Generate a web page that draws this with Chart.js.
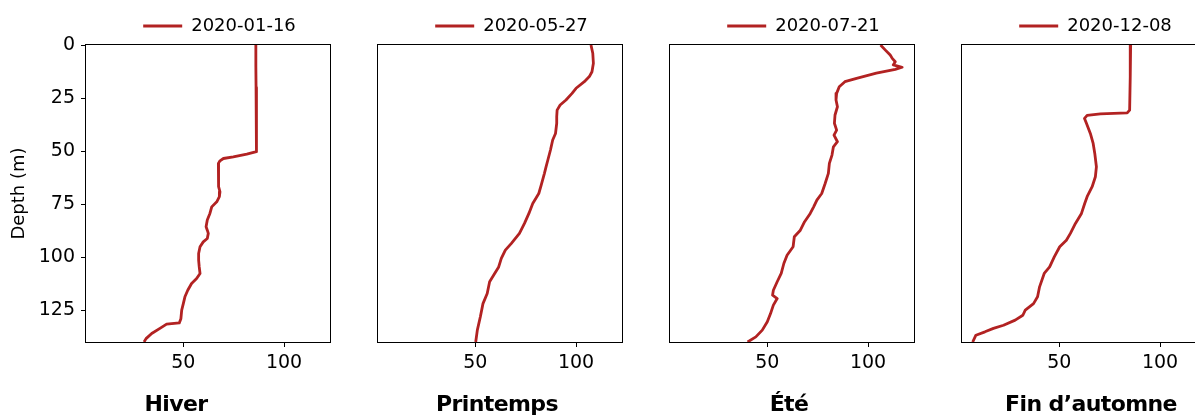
<!DOCTYPE html>
<html><head><meta charset="utf-8">
<script src="https://cdn.jsdelivr.net/npm/chart.js@4/dist/chart.umd.min.js"></script>
<style>
html,body{margin:0;padding:0;background:#fff;width:1195px;height:418px;overflow:hidden;}
#wrap{position:relative;width:1195px;height:418px;overflow:hidden;}
canvas{position:absolute;top:0;}
.season{position:absolute;top:393px;font-family:'DejaVu Sans',sans-serif;font-weight:bold;font-size:22px;line-height:22px;letter-spacing:-0.6px;transform:translateX(-50%);white-space:nowrap;color:#000;}
</style></head><body><div id="wrap"></div>
<script>
// ---- data ----
const seasons = ['Hiver', 'Printemps', 'Été', 'Fin d’automne'];
const dates = ['2020-01-16', '2020-05-27', '2020-07-21', '2020-12-08'];
const xTicks = [50, 100];
const yTicks = [0, 25, 50, 75, 100, 125];
const xMin = 1.7, xMax = 122.8, yMin = 0, yMax = 140;

const winterDepth = [0, 10, 20, 30, 40, 49.5, 50.3, 51.4, 52.7, 53.5, 54.6, 55.8, 58.9, 63.7, 66.8, 69.2, 71.5, 73.9, 76.3, 79.4, 82.5, 85.7, 87.3, 88.8, 91.2, 92.8, 95.1, 98.3, 101.4, 104.6, 107.7, 110.1, 112.4, 115.6, 118.7, 121.9, 125, 129, 131, 131.6, 133.6, 136, 138.4, 140];
const winterValue = [86.0, 86.0, 86.1, 86.2, 86.3, 86.4, 86.3, 81.5, 74.8, 69.9, 68.2, 67.4, 67.4, 67.4, 67.7, 68.2, 67.9, 66.6, 64.1, 63.2, 61.9, 61.3, 61.9, 62.4, 61.9, 59.9, 58.3, 57.6, 57.6, 57.9, 58.3, 56.6, 54.1, 52.2, 50.8, 50.0, 49.2, 48.8, 48.0, 41.7, 38.4, 34.3, 31.5, 30.5];

const springDepth = [0, 3.9, 8.6, 12.6, 14.9, 17.3, 20.4, 22.8, 25.9, 28.3, 30.7, 33.8, 36.9, 41.7, 44.8, 49.5, 54.2, 57.4, 60.5, 66, 70, 74.7, 79.4, 84.1, 88.8, 93.6, 96.7, 100.6, 104.6, 107.7, 111.6, 117.1, 121.9, 128.1, 134.4, 140];
const springValue = [107.4, 108.3, 108.6, 107.9, 106.6, 104.1, 100.0, 98.0, 95.0, 92.1, 90.6, 90.4, 90.4, 89.8, 88.4, 87.3, 86.0, 85.1, 84.3, 82.7, 81.5, 78.5, 76.6, 74.4, 71.9, 67.8, 64.9, 62.9, 61.6, 59.6, 57.1, 55.9, 53.8, 52.5, 51.0, 50.2];

const summerDepth = [0, 2.4, 4.7, 6.3, 7.9, 9.4, 10.5, 11.5, 13.3, 15.7, 17.3, 19.7, 22.8, 25.9, 29.1, 33, 36.9, 40.1, 42.5, 45.6, 48, 51.9, 55.8, 60.5, 65.3, 70, 73.1, 76.3, 79.4, 83.3, 87.3, 90.4, 95.1, 99.1, 103, 107.7, 111.6, 115.6, 117.9, 119.5, 122.6, 126.6, 130.5, 134.4, 137.6, 140];
const summerValue = [106.2, 108.6, 111.0, 112.0, 113.5, 112.5, 116.9, 113.5, 104.1, 94.3, 88.5, 85.7, 84.4, 84.1, 84.8, 83.6, 83.3, 84.4, 83.1, 84.8, 82.8, 82.1, 80.8, 80.3, 78.7, 77.0, 74.6, 73.0, 71.3, 68.5, 66.4, 63.4, 62.8, 59.8, 58.2, 56.9, 54.9, 53.0, 52.6, 54.9, 53.0, 51.6, 50.0, 47.5, 44.3, 40.2];

const autumnDepth = [0, 15, 30.7, 32, 32.5, 33.2, 34.6, 37, 41.7, 46.4, 51.1, 57.4, 62.1, 66.8, 71.5, 74.7, 79.4, 84.1, 88.8, 92, 95.1, 99.9, 104.6, 107.7, 114, 118.7, 121.9, 125, 127.4, 129.7, 132.1, 133.6, 135.2, 136.8, 140];
const autumnValue = [85.4, 85.2, 84.9, 83.7, 70.4, 63.8, 62.5, 63.5, 65.4, 66.8, 67.6, 68.4, 67.9, 66.3, 63.8, 62.6, 61.0, 58.0, 55.5, 53.5, 50.2, 47.5, 45.2, 42.5, 40.2, 39.2, 37.2, 33.1, 31.9, 28.1, 22.3, 17.3, 13.1, 8.6, 7.0];

// ---- layout / style ----
const lineColor = '#b22222';
const panelDepths = [winterDepth, springDepth, summerDepth, autumnDepth];
const panelValues = [winterValue, springValue, summerValue, autumnValue];
const canvasLeft = [0, 292, 584, 876];
const titleCenter = [176, 497, 789, 1091];
const CW = 439, CH = 418;

Chart.defaults.font.family = "'DejaVu Sans', sans-serif";
Chart.defaults.color = '#000';

const framePlugin = {
  id: 'frame',
  afterDatasetsDraw(chart) {
    const a = chart.chartArea, ctx = chart.ctx;
    ctx.save();
    ctx.strokeStyle = '#000';
    ctx.lineWidth = 1;
    ctx.strokeRect(Math.round(a.left) - 0.5, Math.round(a.top) - 0.5, Math.round(a.right - a.left) + 1, Math.round(a.bottom - a.top) + 1);
    ctx.restore();
  }
};

const wrap = document.getElementById('wrap');
for (let i = 0; i < 4; i++) {
  const c = document.createElement('canvas');
  c.width = CW; c.height = CH;
  c.style.width = CW + 'px'; c.style.height = CH + 'px';
  c.style.left = canvasLeft[i] + 'px';
  wrap.appendChild(c);
  const depth = panelDepths[i], vals = panelValues[i];
  const first = i === 0;
  new Chart(c, {
    type: 'scatter',
    data: {
      datasets: [{
        label: dates[i],
        data: depth.map((d, k) => ({x: vals[k], y: d})),
        showLine: true,
        borderColor: lineColor,
        backgroundColor: lineColor,
        borderWidth: 2.8,
        borderJoinStyle: 'round',
        pointRadius: 0,
        pointHoverRadius: 0,
        tension: 0
      }]
    },
    options: {
      responsive: false,
      animation: false,
      devicePixelRatio: 1,
      layout: {padding: 0},
      plugins: {
        legend: {
          display: true, position: 'top', align: 'center',
          labels: {usePointStyle: true, pointStyle: 'line', pointStyleWidth: 39, font: {size: 18}, color: '#000', padding: 17}
        },
        tooltip: {enabled: false}
      },
      scales: {
        x: {
          type: 'linear', position: 'bottom', min: xMin, max: xMax,
          afterBuildTicks: s => { s.ticks = xTicks.map(v => ({value: v})); },
          afterFit: s => { s.height = 76; },
          grid: {display: true, drawOnChartArea: false, drawTicks: true, tickLength: 5, color: '#000', lineWidth: 1},
          border: {display: false},
          ticks: {color: '#000', font: {size: 19}, padding: 5, maxRotation: 0}
        },
        y: {
          type: 'linear', position: 'left', reverse: true, min: yMin, max: yMax,
          afterBuildTicks: s => { s.ticks = yTicks.map(v => ({value: v})); },
          afterFit: s => { s.width = 86; },
          grid: {display: first, drawOnChartArea: false, drawTicks: true, tickLength: 5, color: '#000', lineWidth: 1},
          border: {display: false},
          ticks: {display: first, color: '#000', font: {size: 19}, padding: 6},
          title: {display: first, text: 'Depth (m)', color: '#000', font: {size: 18}, padding: {top: 9, bottom: 0}}
        },
        yRight: {
          type: 'linear', position: 'right', reverse: true, min: yMin, max: yMax,
          afterFit: s => { s.width = 109; },
          grid: {display: false},
          border: {display: false},
          ticks: {display: false}
        }
      }
    },
    plugins: [framePlugin]
  });
  const t = document.createElement('div');
  t.className = 'season';
  t.textContent = seasons[i];
  t.style.left = titleCenter[i] + 'px';
  wrap.appendChild(t);
}
</script>
</body></html>
